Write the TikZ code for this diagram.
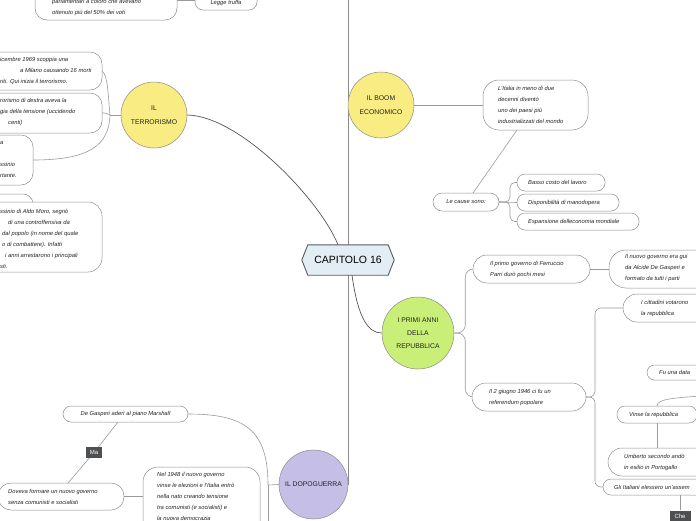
\documentclass[tikz,border=0pt]{standalone}
\usepackage{fontspec}
\setmainfont{Liberation Sans}
\definecolor{yel}{HTML}{F9EC82}
\definecolor{grn}{HTML}{C9EF78}
\definecolor{lav}{HTML}{C5BEE6}
\definecolor{capfill}{HTML}{E2EEF4}
\definecolor{capb}{HTML}{555B61}
\definecolor{boxc}{HTML}{8E8E8E}
\definecolor{linec}{HTML}{9A9A9A}
\definecolor{mainc}{HTML}{555555}
\definecolor{txtc}{HTML}{222222}
\definecolor{tagc}{HTML}{4D4F51}
\definecolor{circc}{HTML}{8A8A8A}
\pgfdeclarelayer{background}
\pgfsetlayers{background,main}
\newcommand\bx[6]{\node[boxs, rounded corners=#6, minimum width={((#4)-(#2))*1pt}, minimum height={((#5)-(#3))*1pt}] (#1) at ({((#2)+(#4))/2},{((#3)+(#5))/2}) {};}
\begin{document}
\begin{tikzpicture}[x=1pt,y=-1pt,
  boxs/.style={draw=boxc, line width=0.5pt, fill=white, inner sep=0pt, outer sep=0pt},
  txt/.style={font=\fontsize{5.8}{11}\selectfont\itshape, align=left, inner sep=0pt, text=txtc},
  topic/.style={circle, draw=circc, line width=0.5pt, inner sep=0pt, minimum size=#1, align=center, font=\fontsize{6.8}{12}\selectfont, text=txtc},
  conn/.style={draw=linec, line width=0.6pt},
  mainconn/.style={draw=mainc, line width=0.7pt},
  vline/.style={draw=circc, line width=1.3pt},
  tag/.style={fill=tagc, text=white, font=\fontsize{6}{7}\selectfont, inner sep=0pt, minimum height=11pt}
]
\useasboundingbox (0,0) rectangle (696,520);
\clip (0,0) rectangle (696,520);

% ---------- top ----------
\bx{law}{35}{-20}{177}{20}{12pt}
\node[txt, anchor=west] (lawt) at (52,7.5) {parlamentari a coloro che avevano\\ottenuto più del 50\% dei voti};
\bx{legge}{195}{-9}{257}{10}{8pt}
\node[txt] (legget) at (226,3) {Legge truffa};

% ---------- terrorismo ----------
\node[topic=66pt, fill=yel] (terr) at (154,115) {IL\\[2pt]TERRORISMO};
\bx{t1}{-30}{52}{102}{90}{12pt}
\node[txt, anchor=west] (t1t) at (0,71) {icembre 1969 scoppia una\\\hspace*{20pt}a Milano causando 16 morti\\riti. Qui inizia il terrorismo.};
\bx{t2}{-30}{93}{102}{133}{12pt}
\node[txt, anchor=west] (t2t) at (0,112) {rorismo di destra aveva la\\gia della tensione (uccidendo\\\hspace*{8pt}centi)};
\bx{t3}{-30}{135}{33}{185}{12pt}
\node[txt, anchor=west] (t3t) at (0,159) {a\\\mbox{}\\ssinio\\rtante.};
\bx{t4b}{-30}{194}{33}{222}{10pt}
\bx{t4}{-30}{202}{102}{272}{14pt}
\node[txt, anchor=west] (t4t) at (0,238.5) {ssinio di Aldo Moro, segnò\\\hspace*{8pt}di una controffensiva da\\\hspace*{2pt}dal popolo (in nome del quale\\\hspace*{2pt}o di combattere). Infatti\\\hspace*{5pt}i anni arrestarono i principali\\sti.};

% ---------- boom ----------
\node[topic=66pt, fill=yel] (boom) at (381,105) {IL BOOM\\[2pt]ECONOMICO};
\bx{b1}{483}{80}{588}{130}{16pt}
\node[txt, anchor=west] (b1t) at (498,105) {L'Italia in meno di due\\decenni diventò\\uno dei paesi più\\industrializzati del mondo};
\bx{cause}{433}{193}{499}{211}{9pt}
\node[txt] (causet) at (466,202) {Le cause sono:};
\bx{c1}{517}{174}{605}{191}{8pt}
\node[txt, anchor=west] (c1t) at (528,182.5) {Basso costo del lavoro};
\bx{c2}{517}{194}{619}{211}{8pt}
\node[txt, anchor=west] (c2t) at (528,202.5) {Disponibilità di manodopera};
\bx{c3}{517}{213}{639}{230}{8pt}
\node[txt, anchor=west] (c3t) at (528,221.5) {Espansione delleconomia mondiale};

% ---------- capitolo ----------
\node[inner sep=0pt, minimum width=92pt, minimum height=30pt, font=\fontsize{10.5}{12}\selectfont, text=black] (cap) at (348,260) {CAPITOLO 16};

% ---------- primi anni ----------
\node[topic=72pt, fill=grn] (primi) at (418,333) {I PRIMI ANNI\\[1pt]DELLA\\[1pt]REPUBBLICA};
\bx{p1}{473}{255}{590}{283}{14pt}
\node[txt, anchor=west] (p1t) at (490,269) {Il primo governo di Ferruccio\\Parri durò pochi mesi};
\bx{p2}{472}{383}{586}{411}{14pt}
\node[txt, anchor=west] (p2t) at (489,397) {Il 2 giugno 1946 ci fu un\\referendum popolare};
\bx{n1}{609}{250}{760}{288}{17pt}
\node[txt, anchor=west] (n1t) at (625,268) {Il nuovo governo era gui\\da Alcide De Gasperi e\\formato da tutti i parti};
\bx{r1}{623}{294}{760}{322}{14pt}
\node[txt, anchor=west] (r1t) at (641,308) {I cittadini votarono\\la repubblica};
\bx{fu}{647}{365}{760}{380}{7.5pt}
\node[txt, anchor=west] (fut) at (659,372.5) {Fu una data};
\bx{vinse}{617}{406}{697}{423}{8pt}
\node[txt, anchor=west] (vinset) at (629,414.5) {Vinse la repubblica};
\bx{umb}{608}{448}{760}{476}{14pt}
\node[txt, anchor=west] (umbt) at (624,462) {Umberto secondo andò\\in esilio in Portogallo};
\bx{gli}{603}{479}{760}{495}{8pt}
\node[txt, anchor=west] (glit) at (614,487) {Gli Italiani elessero un'assem};
\node[tag, minimum width=21pt] (che) at (680,516) {Che};

% ---------- dopoguerra ----------
\node[topic=69pt, fill=lav] (dopo) at (313.5,484.5) {IL DOPOGUERRA};
\bx{degas}{63}{406}{188}{422}{8pt}
\node[txt] (degast) at (125.5,414) {De Gasperi aderì al piano Marshall};
\node[tag, minimum width=16pt] (ma) at (94,452.5) {Ma};
\bx{dov}{-2}{483}{124}{510}{13pt}
\node[txt, anchor=west] (dovt) at (8,496.5) {Doveva formare un nuovo governo\\senza comunisti e socialisti};
\bx{nel}{143}{467}{260}{545}{15pt}
\node[txt, anchor=west] (nelt) at (157,496) {Nel 1948 il nuovo governo\\vinse le elezioni e l'Italia entrò\\nella nato creando tensione\\tra comunisti (e socialisti) e\\la nuova democrazia};

% ---------- connectors ----------
\coordinate (topv) at (348,-5);
\coordinate (tj) at (110,115);
\coordinate (vpar) at (702,396);
\coordinate (dj) at (268,485);
\coordinate (dbelow) at (268,530);
\begin{pgfonlayer}{background}
\fill[white] (0,0) rectangle (696,520);
\draw[vline] (dopo.east |- topv) -- (dopo.east);
\draw[conn] (law.east |- legge.west) -- (legge.west);
% terrorismo
\draw[mainconn] (terr.east) .. controls (240,116) and (320,200) .. ([xshift=-10pt]cap.north);
\draw[conn] (terr.west) -- (tj);
\draw[conn] (tj) .. controls (108,95) and (108,75) .. (t1.east);
\draw[conn] (tj) .. controls (106,113) .. (t2.east);
\draw[conn] (tj) .. controls (109,145) and (90,160) .. (t3.east);
% boom
\draw[conn] (boom.east) -- (b1.west);
\draw[conn] ([xshift=-18.5pt]b1.south) -- ([xshift=7pt]cause.north);
\draw[conn, rounded corners=5pt] (cause.east) -- ++(11,0) |- (c1.west);
\draw[conn] (cause.east) -- (c2.west);
\draw[conn, rounded corners=5pt] (cause.east) -- ++(11,0) |- (c3.west);
% primi anni
\draw[mainconn] ([xshift=4pt]cap.south) .. controls (358,318) and (368,333) .. (primi.west);
\draw[conn, rounded corners=8pt] (primi.east) -- ++(11,0) |- (p1.west);
\draw[conn, rounded corners=8pt] (primi.east) -- ++(11,0) |- (p2.west);
\draw[conn] (p1.east) -- (n1.west);
\draw[conn, rounded corners=6pt] (p2.east) -- ++(9,0) |- (r1.west);
\draw[conn, rounded corners=6pt] (p2.east) -- ++(9,0) |- (gli.west);
\draw[conn] (vinse.north) .. controls (657,400) and (668,398) .. (vpar);
\draw[conn] (vinse.south) -- (vinse.south |- umb.north);
\draw[conn] (che.north |- gli.south) -- (che.north);
% dopoguerra
\draw[conn] (dopo.west) -- (dj);
\draw[conn] (dj) .. controls (268,430) and (245,414) .. (degas.east);
\draw[conn] (dj) -- (dbelow);
\draw[conn] ([xshift=-7.5pt]degas.south) -- (ma.center) -- ([xshift=7pt]dov.north);
\draw[conn] (dov.east) -- (dov.east -| nel.west);
% hexagon
\draw[draw=capb, fill=capfill, line width=0.9pt] (cap.west) -- ([xshift=6pt]cap.north west) -- ([xshift=-6pt]cap.north east) -- (cap.east) -- ([xshift=-6pt]cap.south east) -- ([xshift=6pt]cap.south west) -- cycle;
\end{pgfonlayer}
\end{tikzpicture}
\end{document}
